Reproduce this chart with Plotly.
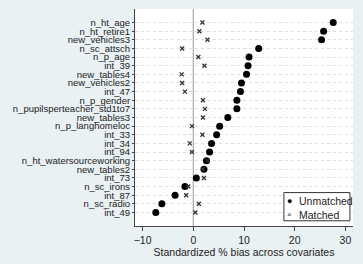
import plotly.graph_objects as go

covariates = ["n_ht_age", "n_ht_retire1", "new_vehicles3", "n_sc_attsch", "n_p_age", "int_39",
              "new_tables4", "new_vehicles2", "int_47", "n_p_gender", "n_pupilsperteacher_std1to7",
              "new_tables3", "n_p_langhomeloc", "int_33", "int_34", "int_94",
              "n_ht_watersourceworking", "new_tables2", "int_73", "n_sc_irons", "int_87",
              "n_sc_radio", "int_49"]
unmatched = [27.6, 25.7, 25.3, 12.9, 11.0, 10.8, 10.5, 9.5, 9.3, 8.6, 8.6, 6.8, 5.2,
             4.6, 3.6, 3.2, 2.6, 2.1, 0.6, -1.65, -3.6, -6.2, -7.4]
matched = [1.8, 1.2, 2.8, -2.2, 1.0, 2.2, -2.3, -2.2, -1.65, 1.9, 2.3, 1.9, -0.26,
           1.8, -0.7, -0.26, 2.8, 1.9, 2.1, -1.0, -1.4, 1.1, 0.4]
x_ticks = [-10, 0, 10, 20, 30]
series_names = ["Unmatched", "Matched"]

pos = list(range(len(covariates)))

fig = go.Figure()
fig.add_trace(go.Scatter(x=unmatched, y=pos, mode="markers", name=series_names[0],
                         marker=dict(symbol="circle", size=7, color="black")))
fig.add_trace(go.Scatter(x=matched, y=pos, mode="markers", name=series_names[1],
                         marker=dict(symbol="x-thin", size=4, color="#333333",
                                     line=dict(width=1.3, color="#333333"))))

fig.add_shape(type="line", x0=0, x1=0, y0=0, y1=1, yref="paper", xref="x",
              line=dict(color="#aaaaaa", width=1.2), layer="below")

# custom legend box (Stata style)
fig.add_shape(type="rect", xref="paper", yref="paper", x0=0.683, x1=0.986, y0=0.024, y1=0.154,
              line=dict(color="#333333", width=1), fillcolor="white")
fig.add_annotation(xref="paper", yref="paper", x=0.711, y=0.115, text="●", showarrow=False,
                   font=dict(size=9, color="black"), xanchor="center", yanchor="middle")
fig.add_annotation(xref="paper", yref="paper", x=0.711, y=0.052, text="×", showarrow=False,
                   font=dict(size=8, color="#333333"), xanchor="center", yanchor="middle")
fig.add_annotation(xref="paper", yref="paper", x=0.742, y=0.115, text=series_names[0],
                   showarrow=False, font=dict(size=10.5, color="#222222"),
                   xanchor="left", yanchor="middle")
fig.add_annotation(xref="paper", yref="paper", x=0.742, y=0.052, text=series_names[1],
                   showarrow=False, font=dict(size=10.5, color="#222222"),
                   xanchor="left", yanchor="middle")

fig.update_layout(
    width=363, height=264,
    margin=dict(l=135, r=10, t=9, b=36),
    paper_bgcolor="#EAF1F3", plot_bgcolor="white",
    font=dict(family="Liberation Sans, Arial", size=10, color="#222222"),
    showlegend=False,
    xaxis=dict(range=[-11.5, 31.5], tickvals=x_ticks, showgrid=False, zeroline=False,
               showline=True, linecolor="#444444", ticks="outside", ticklen=4,
               tickcolor="#444444", tickfont=dict(size=10.5),
               title=dict(text="Standardized % bias across covariates", font=dict(size=10.5),
                          standoff=2)),
    yaxis=dict(range=[len(covariates) - 1 + 1.57, -1.57], tickvals=pos, ticktext=covariates,
               showgrid=True, gridcolor="#dddddd", griddash="dot", gridwidth=1,
               zeroline=False, showline=True, linecolor="#444444", ticks="outside",
               ticklen=2, tickcolor="#444444", tickfont=dict(size=9.5)),
)

fig.write_html("out.html")
